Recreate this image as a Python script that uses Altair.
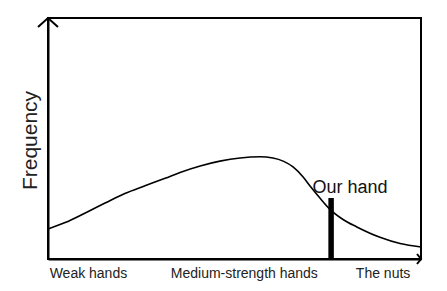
import altair as alt
import pandas as pd

# curve (x: hand strength 0-100, y: frequency 0-100)
curve_x = [0, 4.6, 10.0, 15.3, 20.6, 26.0, 31.4, 35.4, 40.8, 46.1, 51.5, 56.8, 60.3, 63.2, 65.7, 68.4, 70.2, 72.9, 75.6, 79.1, 82.8, 89.0, 94.4, 100]
curve_y = [12.4, 15.1, 19.1, 23.2, 27.2, 30.4, 33.5, 35.9, 38.6, 40.6, 41.9, 42.4, 41.9, 40.5, 38.2, 34.0, 30.4, 25.3, 20.6, 16.4, 13.3, 9.0, 6.4, 5.0]

our_hand_x = [75.9]
our_hand_y0 = [0.0]
our_hand_y = [25.3]
our_hand_label = ["Our hand"]
label_pos = [10.7, 52.5, 89.7]
label_text = ["Weak hands", "Medium-strength hands", "The nuts"]

FONT = "Liberation Sans"

curve_df = pd.DataFrame({"x": curve_x, "y": curve_y})
hand_df = pd.DataFrame({"x": our_hand_x, "y0": our_hand_y0, "y": our_hand_y, "label": our_hand_label})

xs = alt.Scale(domain=[0, 100], nice=False, zero=False)
ys = alt.Scale(domain=[0, 100], nice=False, zero=False)

label_expr = " : ".join(
    [f"datum.value == {p} ? '{t}'" for p, t in zip(label_pos[:-1], label_text[:-1])]
) + f" : '{label_text[-1]}'"

x_axis = alt.Axis(values=label_pos, labelExpr=label_expr, ticks=False, grid=False,
                  domain=True, domainColor="black", domainWidth=2,
                  labelFont=FONT, labelFontSize=14, labelColor="#222222",
                  labelPadding=7, title=None, labelAngle=0)
y_axis = alt.Axis(values=[50], ticks=False, labels=False, grid=False,
                  domain=True, domainColor="black", domainWidth=2,
                  title="Frequency", titleFont=FONT, titleFontSize=21,
                  titleFontWeight="normal", titleColor="#222222",
                  titleX=-12, titleY=122, titleAngle=270,
                  titleAlign="center", titleBaseline="alphabetic")

line = alt.Chart(curve_df).mark_line(interpolate="monotone", color="black", strokeWidth=1.6).encode(
    x=alt.X("x:Q", scale=xs, axis=x_axis),
    y=alt.Y("y:Q", scale=ys, axis=y_axis),
)

bar = alt.Chart(hand_df).mark_rule(color="black", strokeWidth=5.5).encode(
    x="x:Q", y="y0:Q", y2="y:Q"
)

txt = alt.Chart(hand_df).mark_text(font=FONT, fontSize=18, color="#111111",
                                   align="center", baseline="alphabetic", dx=19, dy=-5).encode(
    x="x:Q", y="y:Q", text="label:N"
)

arrow_df = pd.DataFrame({"x": [0], "y": [100]})
up_arrow = alt.Chart(arrow_df).mark_point(
    shape="M-1,0.9L0,0L1,0.9", size=400, filled=False, color="black", strokeWidth=2, opacity=1
).encode(x="x:Q", y="y:Q")

right_df = pd.DataFrame({"x": [100], "y": [0]})
right_arrow = alt.Chart(right_df).mark_point(
    shape="M-0.8,-1L0,0L-0.8,1", size=100, filled=False, color="black", strokeWidth=2, opacity=1
).encode(x="x:Q", y="y:Q")

chart = alt.layer(line, bar, txt, up_arrow, right_arrow).properties(
    width=373, height=241,
    padding={"left": 48, "top": 18, "right": 26, "bottom": 32},
    autosize=alt.AutoSizeParams(type="none"),
    background="white",
).configure_view(stroke="black", strokeWidth=2)

chart.save("out.html", embed_options={"renderer": "svg", "actions": False})
